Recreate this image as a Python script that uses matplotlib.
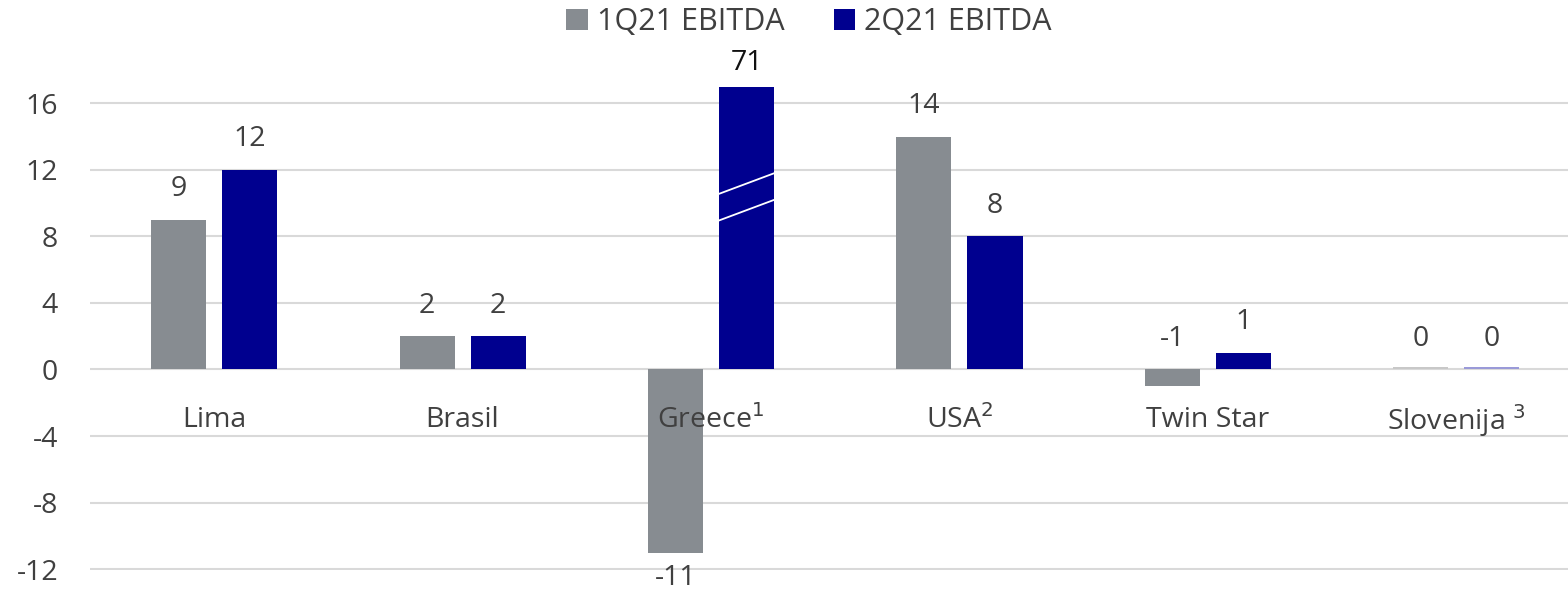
import numpy as np
import matplotlib
matplotlib.use("Agg")
import matplotlib.pyplot as plt

plt.rcParams['font.family'] = ['Open Sans', 'DejaVu Sans']
plt.rcParams['axes.unicode_minus'] = False

categories = ["Lima", "Brasil", "Greece$^{1}$", "USA$^{2}$", "Twin Star", "Slovenija $^{3}$"]
q1_ebitda = [9, 2, -11, 14, -1, 0]
q2_ebitda = [12, 2, 71, 8, 1, 0]
axis_cap = 17  # bars above this are cut with a break mark

gray = "#878c91"
blue = "#00008f"
txt = "#404040"
fs = 20.5

fig = plt.figure(figsize=(15.68, 5.92), dpi=100)
ax = fig.add_axes([90/1568, 0.0372, 1 - 90/1568, 0.8305])

x = np.arange(len(categories))
w = 0.222
off = 0.143

q2_shown = [min(v, axis_cap) for v in q2_ebitda]
b1 = ax.bar(x - off, q1_ebitda, w, color=gray, label="1Q21 EBITDA", zorder=3)
b2 = ax.bar(x + off, q2_shown, w, color=blue, label="2Q21 EBITDA", zorder=3)

# zero-valued bars show as thin lines
for i in range(len(categories)):
    if q1_ebitda[i] == 0:
        ax.bar(x[i] - off, 0.12, w, color="#c8c8c8", zorder=3)
    if q2_ebitda[i] == 0:
        ax.bar(x[i] + off, 0.12, w, color="#9a9ad8", zorder=3)

# value labels
for i in range(len(categories)):
    for xs, v, shown in [(x[i] - off, q1_ebitda[i], q1_ebitda[i]),
                         (x[i] + off, q2_ebitda[i], q2_shown[i])]:
        if v > axis_cap:
            ax.text(xs, shown + 0.55, str(v), ha="center", va="bottom", fontsize=fs,
                    color="#111111")
        elif v >= 0:
            ax.text(xs, shown + 1.0, str(v), ha="center", va="bottom", fontsize=fs, color=txt)
        elif v > -2:
            # short negative bar: label sits above the zero line
            ax.text(xs, 1.0, str(v), ha="center", va="bottom", fontsize=fs, color=txt)
        else:
            ax.text(xs, shown - 0.7, str(v), ha="center", va="top", fontsize=fs, color=txt)
    # break mark on clipped bars
    if q2_ebitda[i] > axis_cap:
        xl = x[i] + off - w / 2 - 0.01
        xr = x[i] + off + w / 2 + 0.01
        for y0 in [8.9, 10.5]:
            ax.plot([xl, xr], [y0, y0 + 1.35], color="white", lw=1.3, zorder=4)

# category labels just below the zero line
for i, c in enumerate(categories):
    ax.text(x[i], -3.05, c, ha="center", va="center", fontsize=fs, color=txt)

ax.set_ylim(-12.05, 17.5)
ax.set_xlim(-0.5, 5.45)
ax.set_yticks(np.arange(-12, 17, 4))
ax.set_xticks([])
ax.tick_params(axis="y", length=0, pad=23, labelsize=fs, labelcolor=txt)
ax.grid(axis="y", color="#d9d9d9", lw=1.5, zorder=0)
for s in ax.spines.values():
    s.set_visible(False)

fig.legend(handles=[b1, b2], loc="center", bbox_to_anchor=(809/1568, 1 - 22/592), ncol=2,
           frameon=False, fontsize=22, handlelength=0.7, handleheight=0.7,
           handletextpad=0.3, columnspacing=1.6, labelcolor=txt)

fig.savefig("out.png", dpi=100)
